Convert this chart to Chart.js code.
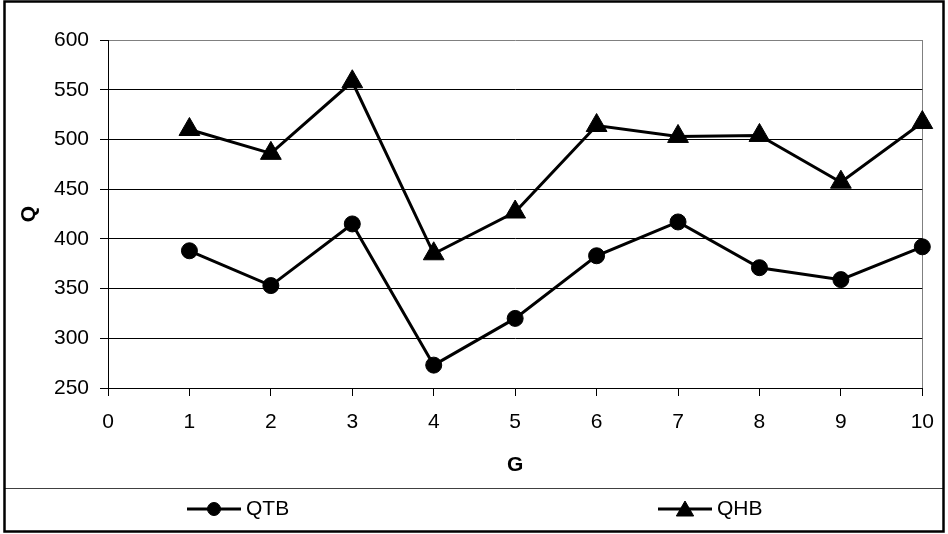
<!DOCTYPE html>
<html>
<head>
<meta charset="utf-8">
<script src="https://cdn.jsdelivr.net/npm/chart.js@4.4.0/dist/chart.umd.min.js"></script>
<style>
  html, body { margin: 0; padding: 0; background: #fff; }
  canvas { display: block; }
</style>
</head>
<body>
<canvas id="qChart" width="948" height="534"></canvas>
<script>
// values
const gValues = [1, 2, 3, 4, 5, 6, 7, 8, 9, 10];
const qtbValues = [388, 353, 415, 273, 320, 383, 417, 371, 359, 392];
const qhbValues = [510, 486, 558, 385, 427, 514, 503, 504, 457, 517];
const xTicks = [0, 1, 2, 3, 4, 5, 6, 7, 8, 9, 10];
const yTicks = [250, 300, 350, 400, 450, 500, 550, 600];

const FONT = "'Liberation Sans', Arial, sans-serif";
const FONT_SIZE = 21;

// outer frame + legend box, drawn after the chart
const framePlugin = {
    id: 'frame',
    afterDraw(chart) {
        const ctx = chart.ctx;
        ctx.save();

        // line above the legend
        ctx.strokeStyle = '#404040';
        ctx.lineWidth = 1;
        ctx.beginPath();
        ctx.moveTo(4, 488.5);
        ctx.lineTo(944, 488.5);
        ctx.stroke();

        // legend entries (line, marker, label)
        const entries = [
            { x: 187, index: 0, radius: 6.5 },
            { x: 658, index: 1, radius: 10 }
        ];
        entries.forEach(e => {
            const ds = chart.data.datasets[e.index];
            const y = 509;
            ctx.strokeStyle = '#000';
            ctx.fillStyle = '#000';
            ctx.lineWidth = 3;
            ctx.beginPath();
            ctx.moveTo(e.x, y);
            ctx.lineTo(e.x + 54, y);
            ctx.stroke();
            ctx.lineWidth = 1;
            Chart.helpers.drawPoint(ctx, {
                pointStyle: ds.pointStyle,
                radius: e.radius,
                borderWidth: 1,
                rotation: 0
            }, e.x + 27, y + (ds.pointStyle === 'triangle' ? 2 : 0));
            ctx.font = FONT_SIZE + 'px ' + FONT;
            ctx.textAlign = 'left';
            ctx.textBaseline = 'middle';
            ctx.fillText(ds.label, e.x + 59, y);
        });

        // outer border
        ctx.strokeStyle = '#000';
        ctx.lineWidth = 2.5;
        ctx.strokeRect(4.5, 1.5, 939, 530);
        ctx.restore();
    }
};

const ctx = document.getElementById('qChart').getContext('2d');

new Chart(ctx, {
    type: 'line',
    data: {
        datasets: [{
            label: 'QTB',
            data: gValues.map((g, i) => ({ x: g, y: qtbValues[i] })),
            borderColor: '#000',
            backgroundColor: '#000',
            borderWidth: 3,
            pointStyle: 'circle',
            pointRadius: 8,
            pointBorderWidth: 1,
            pointBackgroundColor: '#000',
            pointBorderColor: '#000',
            tension: 0,
            clip: false
        }, {
            label: 'QHB',
            data: gValues.map((g, i) => ({ x: g, y: qhbValues[i] })),
            borderColor: '#000',
            backgroundColor: '#000',
            borderWidth: 3,
            pointStyle: 'triangle',
            pointRadius: 12,
            pointBorderWidth: 1,
            pointBackgroundColor: '#000',
            pointBorderColor: '#000',
            tension: 0,
            clip: false
        }]
    },
    options: {
        responsive: false,
        animation: false,
        events: [],
        layout: {
            padding: { left: 0, top: 40, right: 20, bottom: 0 }
        },
        plugins: {
            legend: { display: false },
            tooltip: { enabled: false }
        },
        scales: {
            x: {
                type: 'linear',
                min: 0,
                max: 10,
                afterBuildTicks: s => { s.ticks = xTicks.map(v => ({ value: v })); },
                afterFit: s => { s.height = 146; },
                grid: {
                    drawOnChartArea: true,
                    color: c => c.tick && c.tick.value === 10 ? '#808080' : 'rgba(0,0,0,0)',
                    tickColor: '#000',
                    tickLength: 8,
                    lineWidth: 1
                },
                border: { color: '#000', width: 1 },
                ticks: {
                    color: '#000',
                    padding: 14,
                    maxRotation: 0,
                    font: { family: FONT, size: FONT_SIZE }
                },
                title: {
                    display: true,
                    text: 'G',
                    color: '#000',
                    font: { family: FONT, size: FONT_SIZE, weight: 'bold' },
                    padding: { top: 0, bottom: 56 }
                }
            },
            y: {
                min: 250,
                max: 600,
                afterBuildTicks: s => { s.ticks = yTicks.map(v => ({ value: v })); },
                afterFit: s => { s.width = 108; },
                grid: {
                    color: c => c.tick && c.tick.value === 600 ? '#808080' : '#000',
                    tickColor: '#000',
                    tickLength: 8,
                    lineWidth: 1
                },
                border: { color: '#000', width: 1 },
                ticks: {
                    color: '#000',
                    padding: 11,
                    font: { family: FONT, size: FONT_SIZE }
                },
                title: {
                    display: true,
                    text: 'Q',
                    color: '#000',
                    font: { family: FONT, size: FONT_SIZE, weight: 'bold' },
                    padding: { top: 17, bottom: 0 }
                }
            }
        }
    },
    plugins: [framePlugin]
});
</script>
</body>
</html>
